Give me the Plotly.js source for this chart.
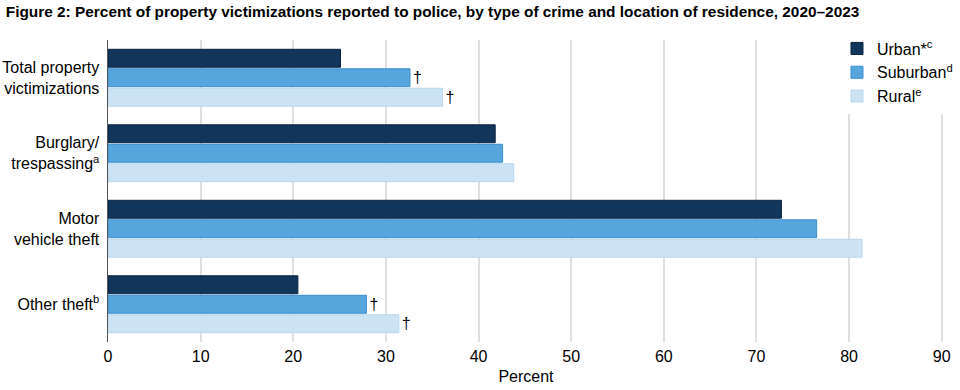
<!DOCTYPE html>
<html>
<head>
<meta charset="utf-8">
<script src="https://cdn.plot.ly/plotly-3.0.1.min.js"></script>
<style>html,body{margin:0;padding:0;background:#fff;}#chart{width:960px;height:390px;}</style>
</head>
<body>
<div id="chart"></div>
<script>
const categories = ["Total property<br>victimizations", "Burglary/<br>trespassing<sup>a</sup>", "Motor<br>vehicle theft", "Other theft<sup>b</sup>"];
const seriesNames = ["Urban*<sup>c</sup>", "Suburban<sup>d</sup>", "Rural<sup>e</sup>"];
const urban = [25.1, 41.8, 72.7, 20.5];
const suburban = [32.6, 42.6, 76.5, 27.9];
const rural = [36.1, 43.8, 81.4, 31.4];
const urbanMarks = ["", "", "", ""];
const suburbanMarks = ["†", "", "", "†"];
const ruralMarks = ["†", "", "", "†"];
const xTicks = [0, 10, 20, 30, 40, 50, 60, 70, 80, 90];

const fills = ["#12355b", "#56a5dc", "#cce3f3"];
const outlines = ["#0a2340", "#3b8ed0", "#b9d7ee"];
const values = [urban, suburban, rural];
const marks = [urbanMarks, suburbanMarks, ruralMarks];

const font = "Liberation Sans, Arial, sans-serif";
const traces = values.map((v, i) => ({
  type: "bar",
  orientation: "h",
  name: seriesNames[i],
  y: categories,
  x: v,
  text: marks[i],
  textposition: "outside",
  cliponaxis: false,
  textfont: {family: font, size: 18, color: "#000"},
  marker: {color: fills[i], line: {color: outlines[i], width: 1}},
  hoverinfo: "x+name"
}));

const layout = {
  width: 960, height: 390,
  margin: {l: 108, r: 16, t: 40, b: 48, autoexpand: false},
  paper_bgcolor: "#fff", plot_bgcolor: "#fff",
  font: {family: font, size: 16, color: "#000"},
  title: {
    text: "<b>Figure 2: Percent of property victimizations reported to police, by type of crime and location of residence, 2020–2023</b>",
    font: {family: font, size: 15.4, color: "#000"},
    x: 0.006, xanchor: "left", xref: "container",
    y: 0.969, yanchor: "middle", yref: "container"
  },
  barmode: "group",
  bargap: 0.226,
  bargroupgap: 0.08,
  xaxis: {
    range: [0, 90.25],
    tickvals: xTicks,
    ticktext: xTicks.map(String),
    showgrid: true, gridcolor: "#e0e0e0", gridwidth: 2,
    zeroline: false, showline: false, ticks: "",
    ticklabelstandoff: 3,
    tickfont: {family: font, size: 16, color: "#000"},
    title: {text: "Percent", font: {family: font, size: 16, color: "#000"}, standoff: 6},
    fixedrange: true
  },
  yaxis: {
    autorange: "reversed",
    showline: true, linecolor: "#555", linewidth: 1.5,
    showgrid: false, zeroline: false, ticks: "",
    ticklabelstandoff: 4,
    tickfont: {family: font, size: 16, color: "#000"},
    fixedrange: true
  },
  legend: {
    xref: "paper", yref: "paper",
    x: 0.872, xanchor: "left",
    y: 1.028, yanchor: "top",
    bgcolor: "#fff",
    font: {family: font, size: 16, color: "#000"},
    traceorder: "normal",
    itemwidth: 30
  },
  showlegend: true
};

Plotly.newPlot("chart", traces, layout, {displayModeBar: false, staticPlot: true});
</script>
</body>
</html>
